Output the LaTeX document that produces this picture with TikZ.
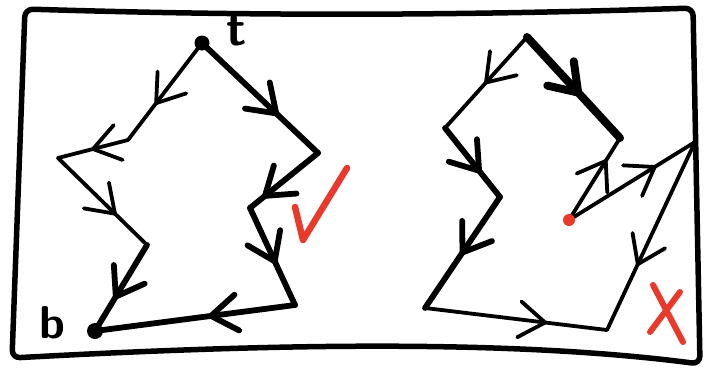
\documentclass[tikz,border=0pt]{standalone}
\usetikzlibrary{decorations.markings}
\definecolor{mark red}{RGB}{232,57,42}

\begin{document}
\begin{tikzpicture}[x=1pt,y=-1pt,line cap=round,line join=round,
    mid/.style={postaction={decorate,decoration={markings,
        mark=at position #1 with {\draw (-26pt,-18pt) -- (0pt,0pt) -- (-26pt,18pt);}}}},
    mid/.default=.6,
    thin edge/.style={line width=3.8pt},
    thick edge/.style={line width=5.8pt}]
\useasboundingbox (0,0) rectangle (711,370);
% frame
\draw [line width=5.5pt,rounded corners=8pt]
    (25,9) .. controls (250,16) and (450,16) .. (693,8) --
    (700,364) .. controls (500,338) and (250,345) .. (12,358) -- cycle;

% left: two paths from t to b
\coordinate (t) at (202,43);
\coordinate (b) at (95,331);
\coordinate (L1) at (128,140);
\coordinate (L2) at (58,158);
\coordinate (L3) at (147,245);
\coordinate (R1) at (318,153);
\coordinate (R2) at (250,208);
\coordinate (R3) at (295,305);
\draw [thin edge,mid=.62] (t) -- (L1);
\draw [thin edge,mid=.5] (L1) -- (L2);
\draw [thin edge,mid=.64] (L2) -- (L3);
\draw [thick edge,mid=.6] (L3) -- (b);
\draw [thick edge,mid=.64] (t) -- (R1);
\draw [thick edge,mid=.78] (R1) -- (R2);
\draw [thick edge,mid=.55] (R2) -- (R3);
\draw [thick edge,mid=.42] (R3) -- (b);
\fill (t) circle (7.5);
\fill (b) circle (8);
\node [font=\sffamily\bfseries\fontsize{50}{50}\selectfont] (t label) at (237,31) {t};
\node [font=\sffamily\bfseries\fontsize{46}{46}\selectfont] (b label) at (52,323) {b};
\draw [mark red,line width=6.5pt] (295,207) -- (303,240) -- (347,168);

% right: red point is a source
\coordinate (T) at (527,37);
\coordinate (P1) at (445,128);
\coordinate (P2) at (500,197);
\coordinate (P3) at (425,308);
\coordinate (P4) at (607,330);
\coordinate (Q1) at (620,138);
\coordinate (Q2) at (695,142);
\coordinate (red) at (569,220);
\draw [thin edge,mid=.5] (T) -- (P1);
\draw [thick edge,mid=.62] (P1) -- (P2);
\draw [thick edge,mid=.5] (P2) -- (P3);
\draw [thin edge,mid=.66] (P3) -- (P4);
\draw [line width=8pt,mid=.55] (T) -- (Q1);
\draw [thin edge,mid=.72] (red) -- (Q1);
\draw [thin edge,mid=.68] (red) -- (Q2);
\draw [thin edge,mid=.65] (Q2) -- (P4);
\fill [mark red] (red) circle (6);
\draw [mark red,line width=6pt] (653,285) -- (683,342) (680,292) -- (650,332);
\end{tikzpicture}
\end{document}
